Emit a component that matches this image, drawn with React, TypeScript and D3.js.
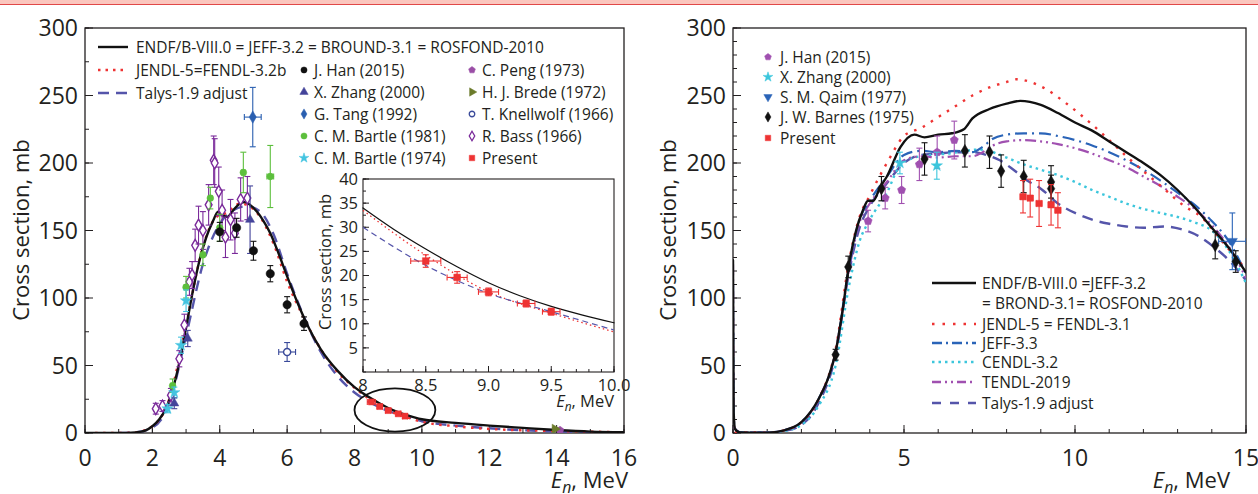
import React, { useEffect, useRef } from "react"
import * as d3 from "d3"

// ---------- left panel: evaluated curves (E in MeV, sigma in mb)
const endfL = [[0, 0], [1.0, 0], [1.5, 0.5], [1.8, 2], [2.0, 5], [2.2, 10], [2.4, 18], [2.6, 32], [2.8, 52], [3.0, 78], [3.2, 105], [3.4, 128], [3.6, 145], [3.8, 157], [3.95, 164], [4.1, 161], [4.22, 160], [4.4, 165], [4.6, 170], [4.75, 171], [4.9, 169], [5.1, 164], [5.3, 157], [5.5, 148], [5.7, 136], [6.0, 116], [6.3, 97], [6.6, 80], [7.0, 62], [7.5, 46], [8.0, 34], [8.25, 29.5], [8.5, 25.5], [8.75, 21.8], [9.0, 18.5], [9.25, 15.8], [9.5, 13.6], [9.75, 11.8], [10, 10.2], [11, 7.5], [12, 5.5], [13, 3.8], [14, 2.2], [15, 1], [16, 0.5]]
const jendlL = [[0.3, 0], [1.0, 0], [1.5, 0.5], [2.0, 5], [2.5, 25], [3.0, 80], [3.5, 138], [3.9, 160], [4.2, 163], [4.6, 170], [4.8, 169], [5.2, 160], [5.6, 140], [6.0, 112], [6.5, 85], [7.0, 62], [7.5, 45], [8.0, 33.5], [8.5, 24.2], [9.0, 16.6], [9.5, 12.2], [10, 8.3], [11, 5], [12, 3], [13, 2], [14, 1.5], [15, 1], [16, 0.5]]
const talysL = [[1.0, 0], [1.5, 0.5], [2.0, 4], [2.5, 22], [3.0, 72], [3.5, 125], [4.0, 155], [4.4, 165], [4.8, 168], [5.2, 164], [5.6, 147], [6.0, 118], [6.5, 86], [7.0, 60], [7.5, 42], [8.0, 30], [8.5, 22.1], [9.0, 16.3], [9.5, 12.5], [10, 8.7], [11, 5.5], [12, 3.5], [13, 2], [14, 1.2], [15, 0.6], [16, 0.3]]

// ---------- left panel: measurements [E, sigma, dE, dSigma]
const hanL = [[4.0, 149, 0, 7], [4.5, 152, 0, 7], [5.0, 135, 0, 7], [5.5, 118, 0, 6], [6.0, 95, 0, 6], [6.5, 81, 0, 5]]
const zhangL = [[4.9, 158, 0, 25], [2.65, 22, 0, 4], [3.05, 70, 0, 6]]
const tangL = [[4.98, 234, 0.25, 22]]
const bartle81 = [[2.6, 35, 0.05, 5], [3.0, 108, 0.05, 8], [3.5, 132, 0.05, 8], [3.72, 174, 0.05, 8], [4.0, 152, 0.05, 10], [4.7, 193, 0.05, 15], [5.5, 190, 0.1, 23]]
const bartle74 = [[2.45, 18, 0, 3], [2.65, 30, 0, 4], [2.85, 65, 0, 6], [3.0, 98, 0, 8]]
const pengL = [[14.1, 2, 0, 1]]
const bredeL = [[13.95, 3, 0, 1]]
const knellL = [[6.0, 60, 0.25, 7]]
const bassL = [[2.1, 18, 0.05, 4], [2.3, 20, 0.05, 4], [2.55, 28, 0.05, 5], [2.8, 55, 0.05, 6], [2.95, 80, 0.05, 8], [3.1, 112, 0.05, 10], [3.18, 117, 0.05, 10], [3.27, 139, 0.05, 12], [3.37, 154, 0.05, 14], [3.5, 150, 0.05, 14], [3.67, 169, 0.05, 15], [3.82, 202, 0.05, 18], [3.85, 200, 0.05, 18], [3.97, 179, 0.05, 18], [4.07, 165, 0.05, 15], [4.17, 145, 0.05, 15], [4.32, 158, 0.05, 15], [4.45, 148, 0.05, 15], [4.62, 173, 0.05, 16], [4.82, 174, 0.05, 16]]
const presentL = [[8.5, 23, 0.12, 1.3], [8.75, 19.6, 0.08, 1.2], [9.0, 16.6, 0.08, 0.8], [9.3, 14.2, 0.07, 0.7], [9.5, 12.5, 0.07, 0.7]]

// ---------- right panel: evaluated curves
const endfR = [[0, 128], [0.02, 15], [0.06, 3], [0.2, 0.5], [1.0, 0.3], [1.5, 2], [2.0, 8], [2.5, 25], [2.8, 42], [3.0, 60], [3.2, 90], [3.4, 126], [3.6, 150], [3.8, 165], [3.95, 172], [4.1, 172], [4.3, 182], [4.5, 190], [4.9, 212], [5.3, 221], [5.6, 219], [6.0, 221], [6.4, 222], [6.75, 225], [7.0, 233], [7.5, 240], [8.0, 244], [8.4, 246], [9.0, 243], [9.5, 237], [10.0, 230], [10.5, 224], [11.0, 216], [11.5, 208], [12.0, 200], [12.5, 191], [13.0, 180], [13.5, 167], [14.0, 152], [14.5, 137], [15.0, 119]]
const jendlR = [[0.05, 0.5], [1.0, 0.3], [1.5, 2], [2.0, 8], [2.5, 25], [3.0, 62], [3.4, 128], [3.7, 160], [4.0, 176], [4.5, 200], [5.0, 220], [5.5, 226], [6.0, 234], [6.5, 242], [7.0, 250], [7.5, 256], [8.0, 260], [8.3, 262], [8.7, 260], [9.2, 254], [9.7, 245], [10.2, 235], [10.7, 224], [11.0, 217], [11.5, 205], [12.0, 194], [12.6, 181], [13.2, 168], [13.7, 160], [14.2, 145], [14.6, 133], [15, 121]]
const jeffR = [[0, 110], [0.02, 12], [0.06, 3], [0.2, 0.5], [1.0, 0.3], [1.5, 2], [2.0, 8], [2.5, 25], [3.0, 60], [3.4, 124], [3.7, 158], [4.0, 172], [4.5, 190], [5.0, 206], [5.5, 209], [6.0, 208], [6.5, 209], [7.0, 208], [7.3, 212], [7.6, 218], [8.0, 221], [8.5, 222], [9.0, 222], [9.5, 220], [10.0, 217], [10.5, 213], [11.0, 208], [11.5, 202], [12.0, 195], [12.5, 187], [13.0, 178], [13.5, 169], [14.0, 157], [14.5, 142], [15, 118]]
const cendlR = [[0.2, 0.3], [1.0, 0.3], [1.5, 1.5], [2.0, 6], [2.5, 20], [3.0, 50], [3.4, 110], [3.7, 142], [4.0, 158], [4.5, 178], [4.9, 199], [5.3, 204], [5.8, 206], [6.3, 207], [6.8, 209], [7.2, 210], [7.6, 208], [8.0, 204], [8.5, 199], [9.0, 195], [9.5, 191], [10.0, 186], [10.5, 180], [11.0, 175], [11.5, 170], [12.0, 166], [12.5, 163], [13.0, 160], [13.5, 156], [14.0, 150], [14.5, 135], [15, 111]]
const tendlR = [[0, 125], [0.02, 12], [0.06, 3], [0.2, 0.5], [1.0, 0.3], [1.5, 2], [2.0, 8], [2.5, 25], [3.0, 60], [3.4, 122], [3.7, 156], [4.0, 170], [4.5, 186], [5.0, 202], [5.5, 205], [6.0, 204], [6.5, 205], [7.0, 205], [7.3, 208], [7.6, 213], [8.0, 216], [8.5, 217], [9.0, 216], [9.5, 214], [10.0, 211], [10.5, 207], [11.0, 202], [11.5, 197], [12.0, 190], [12.5, 183], [13.0, 175], [13.5, 166], [14.0, 154], [14.5, 138], [15, 115]]
const talysR = [[0.5, 0.2], [1.0, 0.3], [1.5, 1.5], [2.0, 6], [2.5, 22], [3.0, 58], [3.4, 120], [3.7, 152], [4.0, 168], [4.5, 185], [5.0, 200], [5.5, 206], [6.0, 207], [6.5, 208], [7.0, 208], [7.4, 206], [7.8, 202], [8.2, 195], [8.6, 187], [9.0, 181], [9.5, 170], [10.0, 163], [10.5, 158], [11.0, 155], [11.5, 153], [12.0, 152], [12.6, 153], [13.1, 151], [13.6, 146], [14.1, 137], [14.5, 128], [15, 113]]

// ---------- right panel: measurements
const hanR = [[3.95, 157, 0.05, 8], [4.45, 174, 0.05, 8], [4.93, 180, 0.05, 10], [5.45, 199, 0.05, 12], [5.97, 208, 0.05, 12], [6.47, 217, 0.05, 14]]
const zhangR = [[4.88, 200, 0, 8], [5.96, 198, 0, 10]]
const qaimR = [[14.6, 142, 0.4, 21]]
const barnesR = [[3.0, 58, 0, 4], [3.37, 123, 0, 8], [4.34, 181, 0, 9], [5.6, 203, 0, 12], [6.78, 209, 0, 12], [7.5, 208, 0, 12], [7.84, 194, 0, 12], [8.5, 190, 0, 12], [9.3, 186, 0, 12], [9.3, 181, 0, 10], [14.1, 139, 0, 10], [14.7, 127, 0, 8]]
const presentR = [[8.48, 175, 0.08, 12], [8.69, 174, 0.08, 14], [8.95, 170, 0.08, 17], [9.3, 169, 0.08, 15], [9.5, 165, 0.08, 13]]

// ---------- ticks
const leftXTicks = [0, 2, 4, 6, 8, 10, 12, 14, 16]
const yTicks = [0, 50, 100, 150, 200, 250, 300]
const rightXTicks = [0, 5, 10, 15]
const insetXTicks = [8, 8.5, 9, 9.5, 10]
const insetXLabels = ["8", "8.5", "9.0", "9.5", "10.0"]
const insetYTicks = [5, 10, 15, 20, 25, 30, 35, 40]

const FONT = "'Open Sans', 'Noto Sans', sans-serif"
const C = {
  red: "#ee3333", talys: "#5555aa", jeff: "#2a64b8", cendl: "#3cc6dc", tendl: "#a050b0",
  zhang: "#44449a", tang: "#2a5fb0", bartle81: "#5cbf3c", bartle74: "#44c4e0", peng: "#9a4ea6",
  brede: "#6b7b2a", knell: "#3a4a9a", bass: "#7a2a9a",
}

const pentagon = {
  draw(ctx, size) {
    const r = Math.sqrt(size / 2.4)
    for (let i = 0; i < 5; i++) {
      const a = -Math.PI / 2 + (i * 2 * Math.PI) / 5
      const x = r * Math.cos(a), y = r * Math.sin(a)
      i ? ctx.lineTo(x, y) : ctx.moveTo(x, y)
    }
    ctx.closePath()
  },
}

const App = () => {
  const svgRef = useRef(null)

  useEffect(() => {
    const svg = d3.select(svgRef.current)
    svg.selectAll("*").remove()

    // page strip at the top
    svg.append("rect").attr("x", 0).attr("y", 0).attr("width", 1258).attr("height", 4).attr("fill", "#fbc6be")
    svg.append("line").attr("x1", 0).attr("x2", 1258).attr("y1", 4.5).attr("y2", 4.5).attr("stroke", "#e04848").attr("stroke-width", 1.2)

    const addText = (g, x, y, txt, size, anchor = "start", extra = {}) => {
      const t = g.append("text").attr("x", x).attr("y", y).attr("font-family", FONT)
        .attr("font-size", size).attr("fill", "#231f20").attr("text-anchor", anchor).text(txt)
      Object.entries(extra).forEach(([k, v]) => t.attr(k, v))
      return t
    }

    const enLabel = (x, y, size, anchor) => {
      const t = svg.append("text").attr("x", x).attr("y", y).attr("font-family", FONT)
        .attr("font-size", size).attr("fill", "#231f20").attr("text-anchor", anchor)
      t.append("tspan").attr("font-style", "italic").text("E")
      t.append("tspan").attr("font-style", "italic").attr("font-size", size * 0.72).attr("dy", size * 0.22).text("n")
      t.append("tspan").attr("dy", -size * 0.22).text(", MeV")
    }

    const drawFrame = (xs, ys, xMajor, xMinor, yMajor, yMinor, opts) => {
      const g = svg.append("g")
      const [x0, x1] = xs.range(), [y0, y1] = ys.range()
      g.append("rect").attr("x", x0).attr("y", y1).attr("width", x1 - x0).attr("height", y0 - y1)
        .attr("fill", "none").attr("stroke", "#231f20").attr("stroke-width", opts.frameW)
      xMinor.forEach(v => g.append("line").attr("x1", xs(v)).attr("x2", xs(v)).attr("y1", y0).attr("y2", y0 - opts.minor).attr("stroke", "#231f20"))
      xMajor.forEach(v => g.append("line").attr("x1", xs(v)).attr("x2", xs(v)).attr("y1", y0).attr("y2", y0 - opts.major).attr("stroke", "#231f20"))
      yMinor.forEach(v => g.append("line").attr("x1", x0).attr("x2", x0 + opts.minor).attr("y1", ys(v)).attr("y2", ys(v)).attr("stroke", "#231f20"))
      yMajor.forEach(v => g.append("line").attr("x1", x0).attr("x2", x0 + opts.major).attr("y1", ys(v)).attr("y2", ys(v)).attr("stroke", "#231f20"))
      xMajor.forEach((v, i) => addText(g, xs(v), y0 + opts.xLabelDy, opts.xFmt ? opts.xFmt[i] : String(v), opts.font, "middle"))
      yMajor.forEach(v => addText(g, x0 - opts.yLabelDx, ys(v) + opts.font * 0.36, String(v), opts.font, "end"))
      return g
    }

    const drawLine = (g, xs, ys, data, color, width, dash, curve = d3.curveMonotoneX) => {
      g.append("path").datum(data)
        .attr("d", d3.line().x(d => xs(d[0])).y(d => ys(d[1])).curve(curve))
        .attr("fill", "none").attr("stroke", color).attr("stroke-width", width)
        .attr("stroke-dasharray", dash).attr("stroke-linecap", dash ? "butt" : "round")
    }

    const drawPoints = (g, xs, ys, data, sym, color, opts = {}) => {
      const size = opts.size || 40
      const cap = 3
      data.forEach(([x, y, dx, dy]) => {
        const px = xs(x), py = ys(y)
        const eg = g.append("g").attr("stroke", opts.errColor || color).attr("stroke-width", 1.1)
        if (dy) {
          eg.append("line").attr("x1", px).attr("x2", px).attr("y1", ys(y - dy)).attr("y2", ys(y + dy))
          eg.append("line").attr("x1", px - cap).attr("x2", px + cap).attr("y1", ys(y - dy)).attr("y2", ys(y - dy))
          eg.append("line").attr("x1", px - cap).attr("x2", px + cap).attr("y1", ys(y + dy)).attr("y2", ys(y + dy))
        }
        if (dx) {
          eg.append("line").attr("x1", xs(x - dx)).attr("x2", xs(x + dx)).attr("y1", py).attr("y2", py)
          eg.append("line").attr("x1", xs(x - dx)).attr("x2", xs(x - dx)).attr("y1", py - cap).attr("y2", py + cap)
          eg.append("line").attr("x1", xs(x + dx)).attr("x2", xs(x + dx)).attr("y1", py - cap).attr("y2", py + cap)
        }
        g.append("path").attr("d", d3.symbol().type(sym).size(size)())
          .attr("transform", `translate(${px},${py}) rotate(${opts.rotate || 0})`)
          .attr("fill", opts.open ? "#fff" : color).attr("stroke", color).attr("stroke-width", opts.open ? 1.4 : 0.5)
      })
    }

    const legendMarker = (g, x, y, sym, color, opts = {}) => {
      g.append("path").attr("d", d3.symbol().type(sym).size(opts.size || 30)())
        .attr("transform", `translate(${x},${y}) rotate(${opts.rotate || 0})`)
        .attr("fill", opts.open ? "#fff" : color).attr("stroke", color).attr("stroke-width", opts.open ? 1.3 : 0.5)
    }

    // ================= LEFT PANEL =================
    const xL = d3.scaleLinear().domain([0, 16]).range([85, 624])
    const yL = d3.scaleLinear().domain([0, 300]).range([433, 28])
    drawFrame(xL, yL, leftXTicks, d3.range(0, 17, 1), yTicks, d3.range(0, 301, 25),
      { frameW: 1.3, major: 8, minor: 4, font: 23, xLabelDy: 33, yLabelDx: 7 })
    addText(svg, 0, 0, "Cross section, mb", 22, "middle", { transform: "translate(29,230) rotate(-90)" })
    enLabel(628, 488, 22, "end")

    const gL = svg.append("g")
    const clipL = svg.append("clipPath").attr("id", "clipL")
    clipL.append("rect").attr("x", 85).attr("y", 28).attr("width", 539).attr("height", 405)
    gL.attr("clip-path", "url(#clipL)")

    drawLine(gL, xL, yL, talysL, C.talys, 2.4, "11 7")
    drawLine(gL, xL, yL, jendlL, C.red, 2.4, "2.5 5.5")
    drawLine(gL, xL, yL, endfL, "#111", 2.4, null)

    drawPoints(gL, xL, yL, bassL, d3.symbolDiamond, C.bass, { open: true, size: 40 })
    drawPoints(gL, xL, yL, bartle81, d3.symbolCircle, C.bartle81, { size: 36 })
    drawPoints(gL, xL, yL, bartle74, d3.symbolStar, C.bartle74, { size: 40 })
    drawPoints(gL, xL, yL, zhangL, d3.symbolTriangle, C.zhang, { size: 36 })
    drawPoints(gL, xL, yL, tangL, d3.symbolDiamond, C.tang, { size: 44 })
    drawPoints(gL, xL, yL, hanL, d3.symbolCircle, "#111", { size: 55 })
    drawPoints(gL, xL, yL, knellL, d3.symbolCircle, C.knell, { open: true, size: 40 })
    drawPoints(gL, xL, yL, pengL, pentagon, C.peng, { size: 40 })
    drawPoints(gL, xL, yL, bredeL, d3.symbolTriangle, C.brede, { size: 40, rotate: 90 })
    drawPoints(gL, xL, yL, presentL, d3.symbolSquare, C.red, { size: 36 })

    // ellipse around the measured region
    gL.append("ellipse").attr("cx", xL(9.2)).attr("cy", yL(17)).attr("rx", xL(10.4) - xL(9.2)).attr("ry", yL(0) - yL(16))
      .attr("fill", "none").attr("stroke", "#111").attr("stroke-width", 1.8)

    // left legend
    const lg = svg.append("g")
    const lines = [
      ["ENDF/B-VIII.0 = JEFF-3.2 = BROUND-3.1 = ROSFOND-2010", "#111", null, 47],
      ["JENDL-5=FENDL-3.2b", C.red, "2.5 5", 70],
      ["Talys-1.9 adjust", C.talys, "11 7", 93],
    ]
    lines.forEach(([t, c, dash, y]) => {
      lg.append("line").attr("x1", 98).attr("x2", 128).attr("y1", y).attr("y2", y).attr("stroke", c).attr("stroke-width", 2.4).attr("stroke-dasharray", dash)
      addText(lg, 136, y + 5.5, t, 15.5)
    })
    const col2 = [
      ["J. Han (2015)", d3.symbolCircle, "#111", {}],
      ["X. Zhang (2000)", d3.symbolTriangle, C.zhang, {}],
      ["G. Tang (1992)", d3.symbolDiamond, C.tang, {}],
      ["C. M. Bartle (1981)", d3.symbolCircle, C.bartle81, {}],
      ["C. M. Bartle (1974)", d3.symbolStar, C.bartle74, {}],
    ]
    const col3 = [
      ["C. Peng (1973)", pentagon, C.peng, {}],
      ["H. J. Brede (1972)", d3.symbolTriangle, C.brede, { rotate: 90 }],
      ["T. Knellwolf (1966)", d3.symbolCircle, C.knell, { open: true, size: 24 }],
      ["R. Bass (1966)", d3.symbolDiamond, C.bass, { open: true, size: 26 }],
      ["Present", d3.symbolSquare, C.red, {}],
    ]
    const rowsY = [70, 92, 114, 136, 158]
    col2.forEach(([t, s, c, o], i) => { legendMarker(lg, 304, rowsY[i], s, c, o); addText(lg, 314, rowsY[i] + 5.5, t, 15.5) })
    col3.forEach(([t, s, c, o], i) => { legendMarker(lg, 472, rowsY[i], s, c, o); addText(lg, 482, rowsY[i] + 5.5, t, 15.5) })

    // inset
    const xI = d3.scaleLinear().domain([8, 10]).range([363, 614])
    const yI = d3.scaleLinear().domain([0, 40]).range([372, 179])
    svg.append("rect").attr("x", 363).attr("y", 179).attr("width", 251).attr("height", 193).attr("fill", "#fff")
    drawFrame(xI, yI, insetXTicks, d3.range(8, 10.001, 0.1), insetYTicks, d3.range(0, 40.1, 2.5),
      { frameW: 1.1, major: 6, minor: 3, font: 16.5, xLabelDy: 19, yLabelDx: 5, xFmt: insetXLabels })
    addText(svg, 0, 0, "Cross section, mb", 16.5, "middle", { transform: "translate(331,262) rotate(-90)" })
    enLabel(614, 407, 16.5, "end")
    const gI = svg.append("g")
    drawLine(gI, xI, yI, endfL.filter(d => d[0] >= 8 && d[0] <= 10), "#111", 1.2, null)
    drawLine(gI, xI, yI, jendlL.filter(d => d[0] >= 8 && d[0] <= 10), C.red, 1.3, "1.5 3")
    drawLine(gI, xI, yI, talysL.filter(d => d[0] >= 8 && d[0] <= 10), C.talys, 1.2, "6 4")
    drawPoints(gI, xI, yI, presentL, d3.symbolSquare, C.red, { size: 44 })

    // ================= RIGHT PANEL =================
    const xR = d3.scaleLinear().domain([0, 15]).range([733, 1246])
    const yR = d3.scaleLinear().domain([0, 300]).range([433, 28])
    drawFrame(xR, yR, rightXTicks, d3.range(0, 16, 1), yTicks, d3.range(0, 301, 10),
      { frameW: 1.3, major: 8, minor: 4, font: 23, xLabelDy: 33, yLabelDx: 7 })
    addText(svg, 0, 0, "Cross section, mb", 22, "middle", { transform: "translate(676,230) rotate(-90)" })
    enLabel(1230, 488, 22, "end")

    const gR = svg.append("g")
    const clipR = svg.append("clipPath").attr("id", "clipR")
    clipR.append("rect").attr("x", 733).attr("y", 28).attr("width", 513).attr("height", 405)
    gR.attr("clip-path", "url(#clipR)")
    drawLine(gR, xR, yR, talysR, C.talys, 2.4, "11 7")
    drawLine(gR, xR, yR, cendlR, C.cendl, 2.4, "2.5 4")
    drawLine(gR, xR, yR, tendlR, C.tendl, 2.2, "11 4 2 4 2 4")
    drawLine(gR, xR, yR, jeffR, C.jeff, 2.2, "12 5 2 5")
    drawLine(gR, xR, yR, jendlR, C.red, 2.4, "2.5 7")
    drawLine(gR, xR, yR, endfR, "#111", 2.4, null)

    drawPoints(gR, xR, yR, hanR, pentagon, C.tendl, { size: 44 })
    drawPoints(gR, xR, yR, zhangR, d3.symbolStar, C.cendl, { size: 40 })
    drawPoints(gR, xR, yR, qaimR, d3.symbolTriangle, C.jeff, { size: 44, rotate: 180 })
    drawPoints(gR, xR, yR, barnesR, d3.symbolDiamond, "#111", { size: 48 })
    drawPoints(gR, xR, yR, presentR, d3.symbolSquare, C.red, { size: 40 })

    const rg = svg.append("g")
    const rcol = [
      ["J. Han (2015)", pentagon, C.tendl, {}, 57],
      ["X. Zhang (2000)", d3.symbolStar, C.cendl, {}, 77],
      ["S. M. Qaim (1977)", d3.symbolTriangle, C.jeff, { rotate: 180 }, 97],
      ["J. W. Barnes (1975)", d3.symbolDiamond, "#111", {}, 117],
      ["Present", d3.symbolSquare, C.red, {}, 138],
    ]
    rcol.forEach(([t, s, c, o, y]) => { legendMarker(rg, 768, y, s, c, o); addText(rg, 780, y + 5.5, t, 15.5) })

    const rlines = [
      ["ENDF/B-VIII.0 =JEFF-3.2", "#111", null, 283],
      ["JENDL-5 = FENDL-3.1", C.red, "2.5 8", 324],
      ["JEFF-3.3", C.jeff, "10 4 2 4", 343],
      ["CENDL-3.2", C.cendl, "2.5 4", 362],
      ["TENDL-2019", C.tendl, "9 4 2 4 2 4", 382],
      ["Talys-1.9 adjust", C.talys, "9 9", 403],
    ]
    rlines.forEach(([t, c, dash, y]) => {
      rg.append("line").attr("x1", 932).attr("x2", 976).attr("y1", y).attr("y2", y).attr("stroke", c).attr("stroke-width", 2.4).attr("stroke-dasharray", dash)
      addText(rg, 982, y + 5.5, t, 15.5)
    })
    addText(rg, 982, 308.5, "= BROND-3.1= ROSFOND-2010", 15.5)
  }, [])

  return (
    <svg ref={svgRef} width={1258} height={494}
      style={{ position: "absolute", left: 0, top: 0, background: "#fff" }} />
  )
}

export default App
